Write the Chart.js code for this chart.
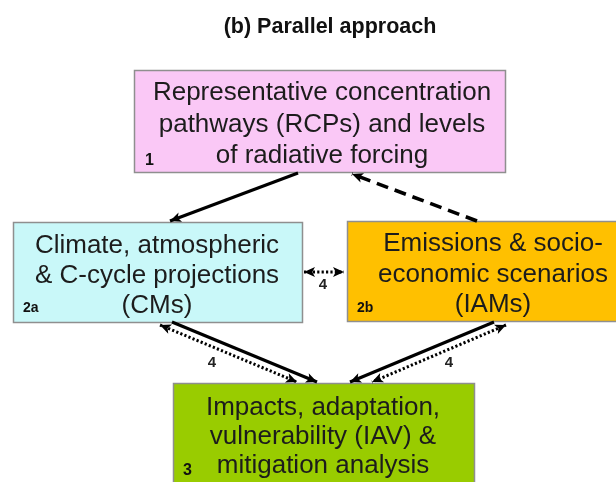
<!DOCTYPE html>
<html>
<head>
<meta charset="utf-8">
<script src="https://cdn.jsdelivr.net/npm/chart.js@4/dist/chart.umd.min.js"></script>
<style>
html,body{margin:0;padding:0;background:#fff;}
#wrap{width:616px;height:482px;}
</style>
</head>
<body>
<div id="wrap"><canvas id="c" width="616" height="482"></canvas></div>
<script>
// ---- diagram content (diagram units = reference pixels) ----
const titleText = "(b) Parallel approach";
const boxIds    = ["1", "2a", "2b", "3"];
const boxLines  = [
  ["Representative concentration", "pathways (RCPs) and levels", "of radiative forcing"],
  ["Climate, atmospheric", "& C-cycle projections", "(CMs)"],
  ["Emissions & socio-", "economic scenarios", "(IAMs)"],
  ["Impacts, adaptation,", "vulnerability (IAV) &", "mitigation analysis"]
];
const boxLeft   = [134, 13, 347, 173];
const boxRight  = [506, 303, 624, 475];
const boxTop    = [70, 222, 221, 383];
const boxBottom = [173, 323, 322, 492];
const boxColors = ["#FAC8F6", "#C9F8F9", "#FFC000", "#99CC00"];
const linkFrom  = [[298,173],[477,221],[304,272],[172,322],[160,325],[494,322],[506,325]];
const linkTo    = [[170,221],[352,174],[344,272],[317,382],[297,382],[350,382],[372,382]];
const linkKind  = ["solid","dashed","dotted","solid","dotted","solid","dotted"];
const linkHeads = ["end","end","both","end","both","end","both"];
const linkLabels = ["4","4","4"];
const linkLabelPos = [[323,285],[212,363],[449,363]];

// ---- styles ----
const FONT = '"Liberation Sans", Arial, Helvetica, sans-serif';
const textColor = "#1c1c1c";
const lineBaselines = [[100,132,163],[253,283,313],[251,282,312],[415,444,473]];
const textCenters = [322, 157, 493, 323];
const idPos = [[145,165],[23,312],[357,312],[183,475]];
const idSize = [16,14,14,16];

function dashFor(k){ return k==="dashed" ? [12,7] : (k==="dotted" ? [2.2,2.2] : []); }

const datasets = linkFrom.map((f,i)=>({
  label: "link"+i,
  data: [{x:f[0],y:f[1]},{x:linkTo[i][0],y:linkTo[i][1]}],
  showLine: true,
  borderColor: "#000",
  borderWidth: linkKind[i]==="dotted" ? 3 : (linkKind[i]==="dashed" ? 3.6 : 3.2),
  borderDash: dashFor(linkKind[i]),
  pointRadius: 0,
  fill: false,
  tension: 0
}));

function head(ctx, x1,y1,x2,y2){
  const a = Math.atan2(y2-y1, x2-x1);
  const L = 11, W = 5;
  ctx.save();
  ctx.translate(x2,y2); ctx.rotate(a);
  ctx.beginPath();
  ctx.moveTo(0,0); ctx.lineTo(-L, W); ctx.lineTo(-L*0.75,0); ctx.lineTo(-L,-W); ctx.closePath();
  ctx.fillStyle = "#000"; ctx.fill();
  ctx.restore();
}

const diagramPlugin = {
  id: "diagram",
  beforeDatasetsDraw(chart){
    const ctx = chart.ctx, sx = chart.scales.x, sy = chart.scales.y;
    ctx.save();
    // title
    ctx.fillStyle = "#111";
    ctx.font = "bold 21.5px " + FONT;
    ctx.textAlign = "center"; ctx.textBaseline = "alphabetic";
    ctx.fillText(titleText, sx.getPixelForValue(330), sy.getPixelForValue(33));
    // boxes
    boxIds.forEach((id,i)=>{
      const x0 = sx.getPixelForValue(boxLeft[i]), x1 = sx.getPixelForValue(boxRight[i]);
      const y0 = sy.getPixelForValue(boxTop[i]), y1 = sy.getPixelForValue(boxBottom[i]);
      ctx.fillStyle = boxColors[i];
      ctx.fillRect(x0,y0,x1-x0,y1-y0);
      ctx.strokeStyle = "#8f8f8f"; ctx.lineWidth = 1.5;
      ctx.strokeRect(x0+0.5,y0+0.5,x1-x0-1,y1-y0-1);
      ctx.fillStyle = textColor;
      ctx.font = "26px " + FONT;
      ctx.textAlign = "center";
      boxLines[i].forEach((t,j)=>{
        ctx.fillText(t, sx.getPixelForValue(textCenters[i]), sy.getPixelForValue(lineBaselines[i][j]));
      });
      ctx.font = "bold " + idSize[i] + "px " + FONT;
      ctx.textAlign = "left";
      ctx.fillStyle = "#111";
      ctx.fillText(id, sx.getPixelForValue(idPos[i][0]), sy.getPixelForValue(idPos[i][1]));
    });
    ctx.restore();
  },
  afterDatasetsDraw(chart){
    const ctx = chart.ctx, sx = chart.scales.x, sy = chart.scales.y;
    ctx.save();
    linkFrom.forEach((f,i)=>{
      const x1 = sx.getPixelForValue(f[0]), y1 = sy.getPixelForValue(f[1]);
      const x2 = sx.getPixelForValue(linkTo[i][0]), y2 = sy.getPixelForValue(linkTo[i][1]);
      head(ctx, x1,y1,x2,y2);
      if (linkHeads[i]==="both") head(ctx, x2,y2,x1,y1);
    });
    ctx.fillStyle = "#222";
    ctx.font = "bold 15px " + FONT;
    ctx.textAlign = "center"; ctx.textBaseline = "middle";
    linkLabels.forEach((t,i)=>{
      ctx.fillText(t, sx.getPixelForValue(linkLabelPos[i][0]), sy.getPixelForValue(linkLabelPos[i][1]));
    });
    ctx.restore();
  }
};

new Chart(document.getElementById("c"), {
  type: "scatter",
  data: { datasets },
  options: {
    responsive: false,
    animation: false,
    layout: { padding: 0 },
    plugins: { legend: {display:false}, tooltip: {enabled:false}, title: {display:false} },
    scales: {
      x: { type: "linear", min: 0, max: 616, display: false },
      y: { type: "linear", min: 0, max: 482, reverse: true, display: false }
    }
  },
  plugins: [diagramPlugin]
});
</script>
</body>
</html>
